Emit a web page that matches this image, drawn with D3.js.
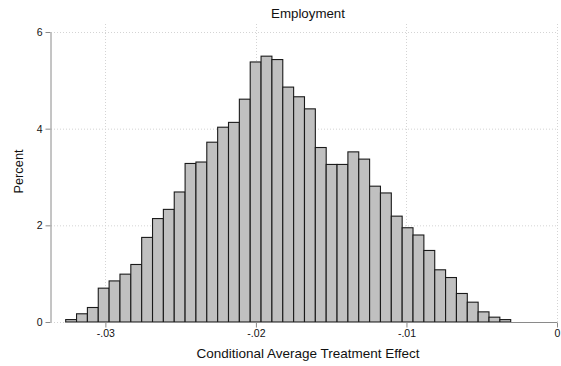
<!DOCTYPE html>
<html>
<head>
<meta charset="utf-8">
<script src="https://cdn.jsdelivr.net/npm/d3@7"></script>
<style>
  html, body { margin: 0; padding: 0; background: #fff; }
  svg { display: block; font-family: "Liberation Sans", Arial, Helvetica, sans-serif; }
</style>
</head>
<body>
<svg id="chart" width="561" height="366"></svg>
<script>
// Histogram of conditional average treatment effects (employment)
const title = "Employment";
const xTitle = "Conditional Average Treatment Effect";
const yTitle = "Percent";

// Bin layout: left edge of the first bin and the common bin width
const binStart = -0.032636;
const binWidth = 0.000721;

// Percent of observations in each bin, left to right
const percents = [
  0.05, 0.17, 0.30, 0.70, 0.85, 0.99, 1.19, 1.75, 2.14, 2.33,
  2.69, 3.28, 3.31, 3.72, 4.03, 4.13, 4.61, 5.38, 5.50, 5.43,
  4.86, 4.66, 4.41, 3.61, 3.26, 3.26, 3.52, 3.37, 2.81, 2.67,
  2.19, 1.95, 1.80, 1.48, 1.08, 0.92, 0.59, 0.41, 0.21, 0.10,
  0.05
];

const xTicks = [-0.03, -0.02, -0.01, 0];
const xTickLabels = ["-.03", "-.02", "-.01", "0"];
const yTicks = [0, 2, 4, 6];
const yTickLabels = ["0", "2", "4", "6"];

const bins = percents.map((p, i) => ({
  x0: binStart + i * binWidth,
  x1: binStart + (i + 1) * binWidth,
  pct: p
}));

const svg = d3.select("#chart");

const plotLeft = 51, plotRight = 557, plotTop = 24, plotBottom = 322;

const x = d3.scaleLinear()
  .domain([-0.03 - (105.4 - plotLeft) / 15060, 0])
  .range([plotLeft, plotRight]);
const y = d3.scaleLinear().domain([0, 6]).range([322, 32]);

const gridColor = "#d4d4d4";
const axisColor = "#8a8a8a";

// gridlines
const grid = svg.append("g");
grid.selectAll("line.hg").data(yTicks).enter().append("line")
  .attr("x1", plotLeft).attr("x2", plotRight)
  .attr("y1", d => y(d) + 0.5).attr("y2", d => y(d) + 0.5)
  .attr("stroke", gridColor).attr("stroke-width", 1)
  .attr("stroke-dasharray", "1,2");
grid.selectAll("line.vg").data(xTicks).enter().append("line")
  .attr("x1", d => Math.round(x(d)) + 0.5).attr("x2", d => Math.round(x(d)) + 0.5)
  .attr("y1", plotTop).attr("y2", plotBottom)
  .attr("stroke", gridColor).attr("stroke-width", 1)
  .attr("stroke-dasharray", "1,2");

// bars
svg.append("g").selectAll("rect").data(bins).enter().append("rect")
  .attr("x", d => x(d.x0))
  .attr("width", d => x(d.x1) - x(d.x0))
  .attr("y", d => y(d.pct))
  .attr("height", d => y(0) - y(d.pct))
  .attr("fill", "#c0c0c0")
  .attr("stroke", "#1a1a1a")
  .attr("stroke-width", 1.1);

// x axis
const xAxis = d3.axisBottom(x)
  .tickValues(xTicks)
  .tickFormat((d, i) => xTickLabels[i])
  .tickSize(5)
  .tickPadding(2)
  .tickSizeOuter(0);
const gx = svg.append("g")
  .attr("transform", `translate(0,${y(0) + 0.5})`)
  .call(xAxis);
gx.select(".domain")
  .attr("d", `M${x(binStart)},0H${plotRight}`)
  .attr("stroke", axisColor);
gx.selectAll(".tick line").attr("stroke", axisColor);
gx.selectAll(".tick text")
  .attr("font-size", "10.5px")
  .attr("font-family", "Liberation Sans, Arial, sans-serif")
  .attr("fill", "#111");

// y axis
const yAxis = d3.axisLeft(y)
  .tickValues(yTicks)
  .tickFormat((d, i) => yTickLabels[i])
  .tickSize(5)
  .tickPadding(3)
  .tickSizeOuter(0);
const gy = svg.append("g")
  .attr("transform", `translate(${plotLeft - 0.5},0)`)
  .call(yAxis);
gy.select(".domain").attr("stroke", axisColor);
gy.selectAll(".tick line").attr("stroke", axisColor);
gy.selectAll(".tick text")
  .attr("font-size", "10.5px")
  .attr("font-family", "Liberation Sans, Arial, sans-serif")
  .attr("fill", "#111");

// titles
svg.append("text")
  .attr("x", 308).attr("y", 17.5)
  .attr("text-anchor", "middle")
  .attr("font-size", "13.3px")
  .attr("fill", "#111")
  .text(title);

svg.append("text")
  .attr("x", 308).attr("y", 357.5)
  .attr("text-anchor", "middle")
  .attr("font-size", "13.5px")
  .attr("fill", "#111")
  .text(xTitle);

svg.append("text")
  .attr("transform", "translate(22.5,171.5) rotate(-90)")
  .attr("text-anchor", "middle")
  .attr("font-size", "12.8px")
  .attr("fill", "#111")
  .text(yTitle);
</script>
</body>
</html>
